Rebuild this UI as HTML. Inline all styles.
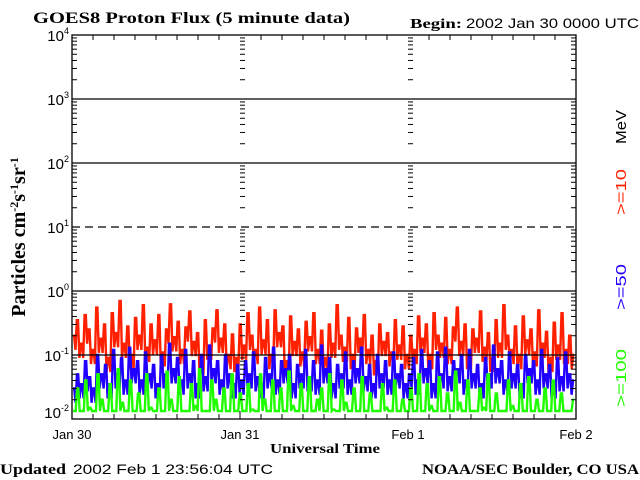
<!DOCTYPE html>
<html><head><meta charset="utf-8"><style>
html,body{margin:0;padding:0;background:#fff;}
svg{display:block;}
.serif{font-family:"Liberation Serif",serif;font-weight:bold;}
.sans{font-family:"Liberation Sans",sans-serif;}
</style></head><body>
<svg id="chart" width="640" height="480" viewBox="0 0 640 480">
<text x="33" y="23" class="serif" font-size="16" textLength="317" lengthAdjust="spacingAndGlyphs">GOES8 Proton Flux (5 minute data)</text>
<text x="410" y="28" class="serif" font-size="14" textLength="52" lengthAdjust="spacingAndGlyphs">Begin:</text>
<text x="466" y="28" class="sans" font-size="14" textLength="173" lengthAdjust="spacingAndGlyphs">2002 Jan 30 0000 UTC</text>
<text x="0" y="474" class="serif" font-size="15" textLength="66" lengthAdjust="spacingAndGlyphs">Updated</text>
<text x="73" y="474" class="sans" font-size="14" textLength="200" lengthAdjust="spacingAndGlyphs">2002 Feb  1 23:56:04 UTC</text>
<text x="422" y="474" class="serif" font-size="15" textLength="217" lengthAdjust="spacingAndGlyphs">NOAA/SEC Boulder, CO USA</text>
<text x="270" y="453" class="serif" font-size="14" textLength="110" lengthAdjust="spacingAndGlyphs">Universal Time</text>
<text transform="translate(25,237) rotate(-90)" text-anchor="middle" class="serif" font-size="20">Particles cm<tspan dy="-7" font-size="12">-2</tspan><tspan dy="7">s</tspan><tspan dy="-7" font-size="12">-1</tspan><tspan dy="7">sr</tspan><tspan dy="-7" font-size="12">-1</tspan></text>
<text transform="translate(626,127) rotate(-90)" text-anchor="middle" class="sans" font-size="15" textLength="34" lengthAdjust="spacingAndGlyphs" fill="#000">MeV</text>
<text transform="translate(626,192) rotate(-90)" text-anchor="middle" class="sans" font-size="15" textLength="46" lengthAdjust="spacingAndGlyphs" fill="#ff2000">&gt;=10</text>
<text transform="translate(626,287) rotate(-90)" text-anchor="middle" class="sans" font-size="15" textLength="46" lengthAdjust="spacingAndGlyphs" fill="#2000ff">&gt;=50</text>
<text transform="translate(626,378) rotate(-90)" text-anchor="middle" class="sans" font-size="15" textLength="58" lengthAdjust="spacingAndGlyphs" fill="#20ff00">&gt;=100</text>
<g id="plot"></g>
</svg>
<script>
const dayLabels = ["Jan 30","Jan 31","Feb 1","Feb 2"];
const yExponents = [4,3,2,1,0,-1,-2];
const p10 = [0.2,0.35,0.15,0.42,0.25,0.12,0.55,0.18,0.3,0.09,0.45,0.22,0.7,0.15,0.28,0.1,0.38,0.2,0.6,0.13,0.3,0.17,0.42,0.11,0.25,0.62,0.19,0.33,0.12,0.27,0.48,0.16,0.22,0.08,0.35,0.14,0.26,0.5,0.18,0.3,0.1,0.21,
0.09,0.3,0.14,0.45,0.2,0.12,0.55,0.17,0.35,0.1,0.5,0.22,0.28,0.08,0.4,0.16,0.25,0.11,0.33,0.19,0.45,0.12,0.24,0.09,0.3,0.15,0.6,0.2,0.13,0.38,0.1,0.26,0.18,0.42,0.12,0.2,0.08,0.3,0.16,0.22,0.11,0.35,0.14,0.28,0.1,0.2,
0.12,0.4,0.18,0.3,0.1,0.45,0.2,0.15,0.38,0.12,0.27,0.55,0.16,0.3,0.1,0.25,0.18,0.48,0.13,0.22,0.09,0.35,0.15,0.6,0.2,0.12,0.28,0.1,0.4,0.17,0.25,0.11,0.5,0.15,0.23,0.09,0.32,0.14,0.45,0.12,0.2,0.1];
const p50 = [0.03,0.05,0.035,0.08,0.045,0.03,0.1,0.05,0.07,0.035,0.12,0.05,0.09,0.04,0.13,0.06,0.08,0.04,0.11,0.05,0.07,0.035,0.1,0.05,0.15,0.06,0.09,0.04,0.12,0.05,0.08,0.035,0.1,0.045,0.14,0.06,0.08,0.04,0.1,0.05,0.035,0.07,
0.04,0.08,0.05,0.11,0.045,0.035,0.09,0.05,0.13,0.04,0.08,0.06,0.1,0.035,0.07,0.05,0.12,0.045,0.08,0.04,0.14,0.06,0.09,0.035,0.07,0.05,0.11,0.04,0.08,0.06,0.13,0.045,0.07,0.035,0.1,0.05,0.08,0.04,0.11,0.05,0.07,0.035,
0.05,0.09,0.04,0.12,0.06,0.08,0.035,0.11,0.05,0.13,0.045,0.08,0.06,0.1,0.04,0.12,0.05,0.07,0.035,0.09,0.05,0.14,0.06,0.08,0.04,0.11,0.05,0.07,0.035,0.1,0.06,0.08,0.04,0.12,0.05,0.07,0.035,0.09,0.045,0.11,0.05,0.04];
const p100 = [0.012,0.03,0.011,0.04,0.015,0.011,0.05,0.02,0.011,0.035,0.012,0.06,0.018,0.011,0.04,0.013,0.025,0.011,0.05,0.015,0.011,0.03,0.012,0.055,0.02,0.011,0.045,0.013,0.011,0.035,0.016,0.06,0.012,0.011,0.04,0.02,0.011,0.03,0.013,0.05,0.011,0.025,
0.011,0.035,0.014,0.011,0.05,0.02,0.011,0.04,0.012,0.03,0.011,0.055,0.016,0.011,0.035,0.013,0.045,0.011,0.02,0.03,0.011,0.05,0.014,0.011,0.04,0.018,0.011,0.03,0.012,0.045,0.011,0.025,0.013,0.011,0.035,0.015,0.011,0.04,0.012,0.02,
0.011,0.03,0.013,0.05,0.011,0.035,0.016,0.011,0.045,0.012,0.025,0.011,0.055,0.018,0.011,0.04,0.013,0.011,0.03,0.015,0.05,0.011,0.025,0.012,0.011,0.04,0.016,0.011,0.035,0.013,0.045,0.011,0.02,0.011,0.03,0.012,0.04,0.011,0.025,0.013,0.011,0.02];

const NS="http://www.w3.org/2000/svg";
const X0=72,X1=576,Y0=35,Y1=419;
const plot=document.getElementById('plot');
function yS(v){return Y1-(Math.log10(v)+2)/6*(Y1-Y0);}
function xS(i,n){return X0+(i+0.5)*(X1-X0)/n;}
function xDay(d){return X0+d*(X1-X0)/(dayLabels.length-1);}
function mk(tag,attrs){const e=document.createElementNS(NS,tag);for(const k in attrs)e.setAttribute(k,attrs[k]);plot.appendChild(e);return e;}

// series: dense spiky trace (zig-zag dipping between samples)
[[p10,"#ff2000","series-10mev"],[p50,"#2000ff","series-50mev"],[p100,"#20ff00","series-100mev"]].forEach(([arr,col,nm])=>{
  let pts=[];
  const n=arr.length, dx=(X1-X0)/n;
  arr.forEach((v,i)=>{
    const x=xS(i,n);
    pts.push((x-dx*0.25).toFixed(1)+","+Math.min(yS(v),Y1-8).toFixed(1));
    pts.push((x+dx*0.05).toFixed(1)+","+Math.min(yS(v),Y1-8).toFixed(1));
    if(i<n-1){
      const lo=Math.max(Math.min(v,arr[i+1])*0.6,0.0105);
      pts.push((x+dx*0.4).toFixed(1)+","+Math.min(yS(lo),Y1-8).toFixed(1));
    }
  });
  const pl=mk('polyline',{points:pts.join(' '),fill:'none',stroke:col,'stroke-width':2.4,'stroke-linejoin':'miter'});
  
  
});

// horizontal decade lines + labels + minor ticks
yExponents.forEach(e=>{
  const y=yS(Math.pow(10,e));
  if(e<4 && e>-2){
    const ln=mk('line',{x1:X0,x2:X1,y1:y,y2:y,stroke:'#000','stroke-width':1.3});
    if(e===1) ln.setAttribute('stroke-dasharray','8,5');
    
    
  }
  const t=mk('text',{x:X0-3,y:y+(e===-2?-1:6),'text-anchor':'end','font-family':'Liberation Sans, sans-serif','font-size':15});
  t.textContent='10';
  const s=document.createElementNS(NS,'tspan');s.setAttribute('dy','-7');s.setAttribute('font-size','9');s.textContent=String(e);t.appendChild(s);
  
  
  if(e>-2){
    for(let m=2;m<=9;m++){
      const ym=yS(Math.pow(10,e-1)*m);
      for(let d=0;d<dayLabels.length;d++){
        const xd=xDay(d);
        if(d<dayLabels.length-1) mk('line',{x1:xd,x2:xd+5,y1:ym,y2:ym,stroke:'#000','stroke-width':1});
        else mk('line',{x1:xd-5,x2:xd,y1:ym,y2:ym,stroke:'#000','stroke-width':1});
      }
    }
  }
});

// frame
const fr=mk('rect',{x:X0,y:Y0,width:X1-X0,height:Y1-Y0,fill:'none',stroke:'#000','stroke-width':1.3});



// day labels and 3-hour ticks
dayLabels.forEach((lab,d)=>{
  const x=xDay(d);
  if(d>0&&d<dayLabels.length-1){
    const dl=mk('line',{x1:x,x2:x,y1:Y1,y2:Y1-8,stroke:'#000','stroke-width':1});
    
    
  }
  const t=mk('text',{x:x,y:Y1+20,'text-anchor':'middle','font-family':'Liberation Sans, sans-serif','font-size':13});
  t.textContent=lab;
  
  
  if(d<dayLabels.length-1){
    for(let h=1;h<8;h++){
      const xh=x+h*(X1-X0)/(dayLabels.length-1)/8;
      mk('line',{x1:xh,x2:xh,y1:Y1,y2:Y1-5,stroke:'#000','stroke-width':1});
      mk('line',{x1:xh,x2:xh,y1:Y0,y2:Y0+5,stroke:'#000','stroke-width':1});
    }
  }
});
</script>
</body></html>
